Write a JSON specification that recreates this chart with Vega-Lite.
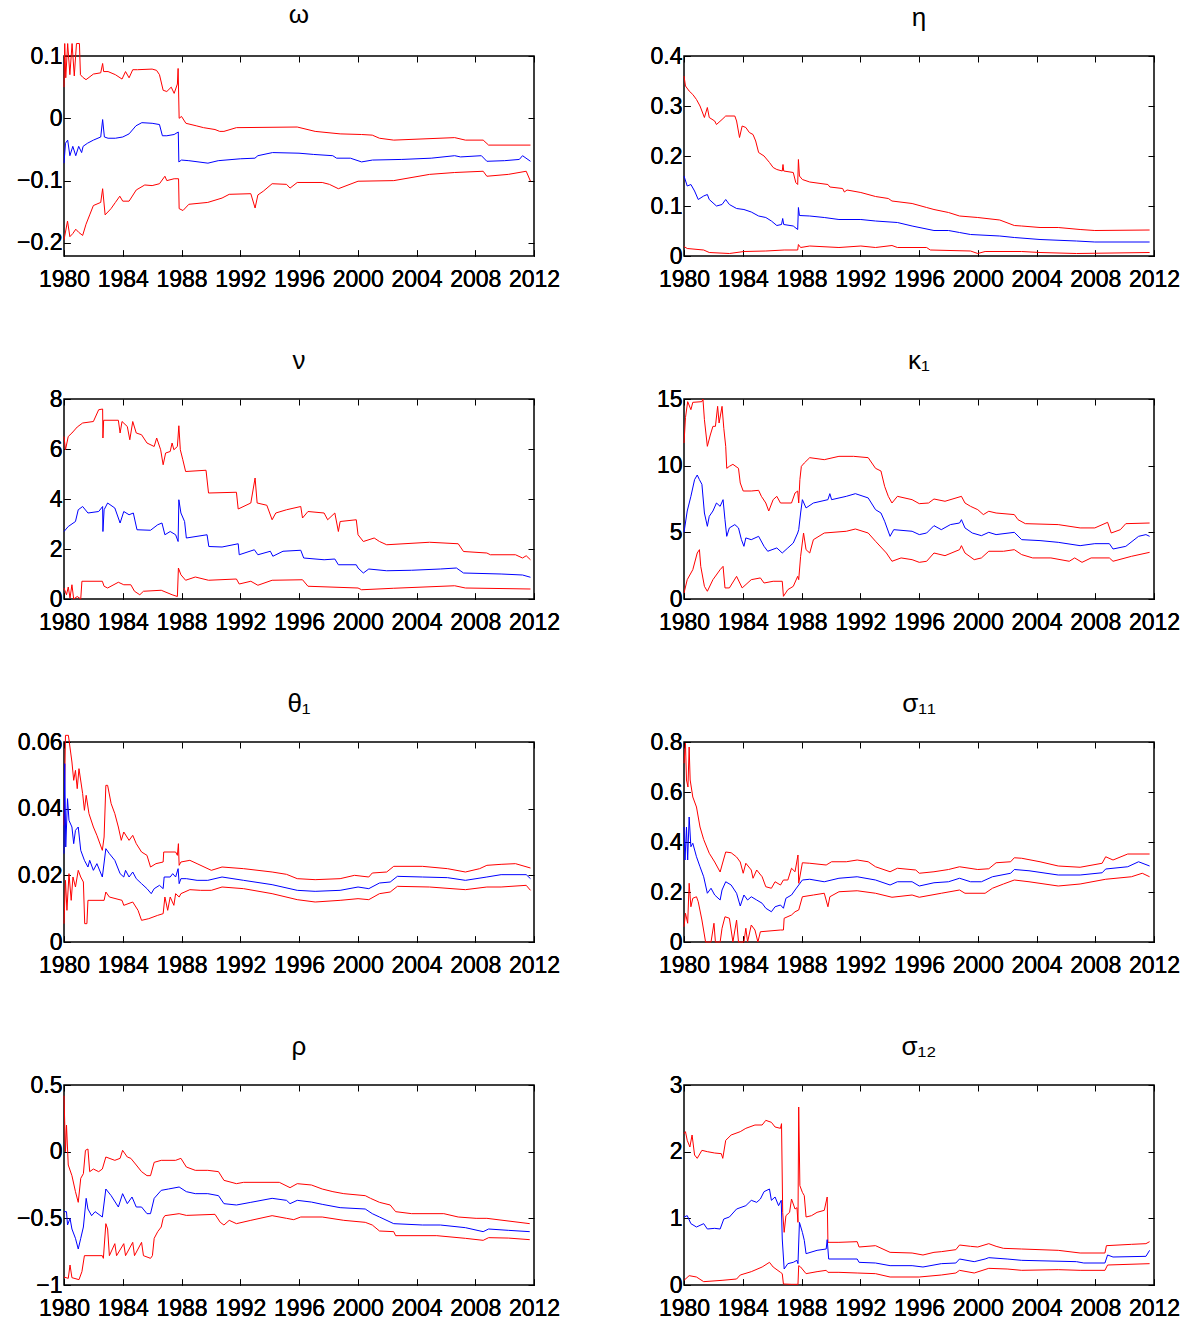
{
"$schema": "https://vega.github.io/schema/vega-lite/v6.json",
"padding": {"left": 15, "top": 0, "right": 5, "bottom": 5},
"background": "white",
"config": {
  "view": {"stroke": "#000000", "strokeWidth": 1.5},
  "axis": {"domain": false, "grid": false, "tickColor": "#000000", "tickSize": -6, "tickWidth": 1, "labelFont": "Liberation Sans, Arial, sans-serif", "labelFontSize": 23, "labelColor": "#000000", "title": null, "labelOverlap": false, "labelFlush": false, "labelBound": false},
  "axisBottom": {"labelPadding": 18},
  "axisLeft": {"labelPadding": 8},
  "title": {"font": "Liberation Sans, sans-serif", "fontSize": 26, "fontWeight": "normal", "color": "#000000", "frame": "group", "anchor": "middle", "baseline": "alphabetic", "offset": 14},
  "line": {"strokeWidth": 1, "clip": true}
},
"datasets": {
"w_h": [{"t":1980.0,"v":0.05},{"t":1980.05,"v":0.12},{"t":1980.12,"v":0.065},{"t":1980.25,"v":0.12},{"t":1980.4,"v":0.07},{"t":1980.55,"v":0.12},{"t":1980.7,"v":0.068},{"t":1980.85,"v":0.12},{"t":1981.05,"v":0.12},{"t":1981.12,"v":0.07},{"t":1981.27,"v":0.066},{"t":1981.5,"v":0.062},{"t":1982.0,"v":0.071},{"t":1982.5,"v":0.073},{"t":1982.63,"v":0.088},{"t":1982.7,"v":0.075},{"t":1983.0,"v":0.075},{"t":1983.5,"v":0.07},{"t":1983.95,"v":0.063},{"t":1984.19,"v":0.075},{"t":1984.43,"v":0.065},{"t":1984.68,"v":0.078},{"t":1985.0,"v":0.078},{"t":1986.0,"v":0.079},{"t":1986.3,"v":0.077},{"t":1986.5,"v":0.07},{"t":1986.75,"v":0.045},{"t":1987.0,"v":0.043},{"t":1987.3,"v":0.05},{"t":1987.5,"v":0.04},{"t":1987.72,"v":0.055},{"t":1987.77,"v":0.08},{"t":1987.84,"v":0.0},{"t":1988.0,"v":0.003},{"t":1988.3,"v":-0.008},{"t":1989.0,"v":-0.012},{"t":1989.5,"v":-0.015},{"t":1990.28,"v":-0.018},{"t":1990.6,"v":-0.021},{"t":1990.89,"v":-0.021},{"t":1991.74,"v":-0.015},{"t":1995.88,"v":-0.014},{"t":1997.1,"v":-0.021},{"t":1998.8,"v":-0.025},{"t":2000.26,"v":-0.026},{"t":2000.99,"v":-0.027},{"t":2001.48,"v":-0.032},{"t":2002.45,"v":-0.035},{"t":2006.6,"v":-0.031},{"t":2007.33,"v":-0.035},{"t":2008.54,"v":-0.035},{"t":2008.91,"v":-0.043},{"t":2011.76,"v":-0.043}],
"w_m": [{"t":1980.0,"v":-0.072},{"t":1980.1,"v":-0.04},{"t":1980.25,"v":-0.035},{"t":1980.4,"v":-0.06},{"t":1980.6,"v":-0.045},{"t":1980.8,"v":-0.06},{"t":1981.0,"v":-0.045},{"t":1981.2,"v":-0.055},{"t":1981.3,"v":-0.045},{"t":1981.6,"v":-0.04},{"t":1982.0,"v":-0.035},{"t":1982.5,"v":-0.03},{"t":1982.63,"v":-0.002},{"t":1982.75,"v":-0.03},{"t":1983.0,"v":-0.032},{"t":1983.5,"v":-0.032},{"t":1984.0,"v":-0.03},{"t":1984.43,"v":-0.025},{"t":1984.9,"v":-0.012},{"t":1985.3,"v":-0.007},{"t":1986.0,"v":-0.008},{"t":1986.5,"v":-0.01},{"t":1986.7,"v":-0.028},{"t":1987.0,"v":-0.028},{"t":1987.5,"v":-0.026},{"t":1987.78,"v":-0.022},{"t":1987.82,"v":-0.07},{"t":1988.0,"v":-0.067},{"t":1988.5,"v":-0.068},{"t":1989.8,"v":-0.072},{"t":1990.5,"v":-0.068},{"t":1992.0,"v":-0.065},{"t":1993.0,"v":-0.064},{"t":1993.2,"v":-0.06},{"t":1994.2,"v":-0.055},{"t":1996.0,"v":-0.056},{"t":1997.0,"v":-0.058},{"t":1998.3,"v":-0.06},{"t":1998.56,"v":-0.064},{"t":1999.5,"v":-0.064},{"t":2000.26,"v":-0.07},{"t":2001.0,"v":-0.067},{"t":2003.0,"v":-0.066},{"t":2005.0,"v":-0.064},{"t":2006.6,"v":-0.06},{"t":2007.0,"v":-0.062},{"t":2008.42,"v":-0.06},{"t":2008.79,"v":-0.069},{"t":2010.0,"v":-0.068},{"t":2011.0,"v":-0.066},{"t":2011.22,"v":-0.06},{"t":2011.76,"v":-0.069}],
"w_l": [{"t":1980.0,"v":-0.195},{"t":1980.24,"v":-0.165},{"t":1980.4,"v":-0.19},{"t":1980.6,"v":-0.185},{"t":1980.8,"v":-0.178},{"t":1981.0,"v":-0.183},{"t":1981.27,"v":-0.188},{"t":1981.5,"v":-0.17},{"t":1981.75,"v":-0.155},{"t":1982.0,"v":-0.14},{"t":1982.5,"v":-0.135},{"t":1982.63,"v":-0.113},{"t":1982.8,"v":-0.155},{"t":1983.2,"v":-0.145},{"t":1983.5,"v":-0.135},{"t":1983.8,"v":-0.125},{"t":1984.0,"v":-0.133},{"t":1984.43,"v":-0.133},{"t":1984.92,"v":-0.115},{"t":1985.5,"v":-0.107},{"t":1986.0,"v":-0.108},{"t":1986.5,"v":-0.105},{"t":1986.87,"v":-0.093},{"t":1987.0,"v":-0.1},{"t":1987.5,"v":-0.097},{"t":1987.8,"v":-0.097},{"t":1987.84,"v":-0.145},{"t":1988.1,"v":-0.148},{"t":1988.5,"v":-0.138},{"t":1989.79,"v":-0.135},{"t":1990.76,"v":-0.128},{"t":1991.25,"v":-0.122},{"t":1992.72,"v":-0.121},{"t":1993.01,"v":-0.144},{"t":1993.2,"v":-0.123},{"t":1993.57,"v":-0.117},{"t":1994.17,"v":-0.105},{"t":1995.15,"v":-0.106},{"t":1995.39,"v":-0.112},{"t":1995.88,"v":-0.103},{"t":1997.58,"v":-0.103},{"t":1998.07,"v":-0.106},{"t":1998.68,"v":-0.113},{"t":2000.02,"v":-0.101},{"t":2002.45,"v":-0.1},{"t":2004.89,"v":-0.09},{"t":2006.6,"v":-0.087},{"t":2008.54,"v":-0.085},{"t":2008.79,"v":-0.093},{"t":2010.25,"v":-0.09},{"t":2011.47,"v":-0.085},{"t":2011.76,"v":-0.101}],
"e_h": [{"t":1980.0,"v":0.36},{"t":1980.1,"v":0.34},{"t":1980.35,"v":0.33},{"t":1980.6,"v":0.323},{"t":1980.85,"v":0.313},{"t":1981.09,"v":0.3},{"t":1981.39,"v":0.277},{"t":1981.59,"v":0.297},{"t":1981.72,"v":0.277},{"t":1982.09,"v":0.27},{"t":1982.21,"v":0.263},{"t":1982.59,"v":0.273},{"t":1982.84,"v":0.28},{"t":1983.46,"v":0.28},{"t":1983.58,"v":0.27},{"t":1983.78,"v":0.237},{"t":1983.96,"v":0.26},{"t":1984.21,"v":0.257},{"t":1984.45,"v":0.247},{"t":1984.7,"v":0.243},{"t":1984.88,"v":0.23},{"t":1985.08,"v":0.207},{"t":1985.45,"v":0.2},{"t":1985.82,"v":0.187},{"t":1986.07,"v":0.177},{"t":1986.32,"v":0.173},{"t":1986.69,"v":0.17},{"t":1986.74,"v":0.183},{"t":1986.79,"v":0.17},{"t":1987.44,"v":0.167},{"t":1987.61,"v":0.147},{"t":1987.74,"v":0.143},{"t":1987.79,"v":0.193},{"t":1987.86,"v":0.16},{"t":1988.06,"v":0.153},{"t":1988.56,"v":0.148},{"t":1989.8,"v":0.143},{"t":1989.93,"v":0.138},{"t":1990.8,"v":0.135},{"t":1990.92,"v":0.128},{"t":1991.1,"v":0.132},{"t":1992.04,"v":0.127},{"t":1993.04,"v":0.119},{"t":1993.91,"v":0.115},{"t":1994.16,"v":0.11},{"t":1995.53,"v":0.105},{"t":1996.52,"v":0.097},{"t":1997.02,"v":0.093},{"t":1998.01,"v":0.087},{"t":1998.76,"v":0.08},{"t":2000.0,"v":0.077},{"t":2001.5,"v":0.072},{"t":2002.49,"v":0.061},{"t":2002.99,"v":0.06},{"t":2004.24,"v":0.057},{"t":2005.48,"v":0.057},{"t":2006.97,"v":0.053},{"t":2007.97,"v":0.051},{"t":2011.7,"v":0.052}],
"e_m": [{"t":1980.0,"v":0.16},{"t":1980.22,"v":0.14},{"t":1980.47,"v":0.143},{"t":1980.72,"v":0.13},{"t":1980.97,"v":0.113},{"t":1981.34,"v":0.12},{"t":1981.59,"v":0.123},{"t":1981.72,"v":0.113},{"t":1982.21,"v":0.1},{"t":1982.59,"v":0.103},{"t":1982.84,"v":0.113},{"t":1983.09,"v":0.103},{"t":1983.58,"v":0.095},{"t":1984.08,"v":0.093},{"t":1984.58,"v":0.088},{"t":1985.08,"v":0.08},{"t":1985.57,"v":0.077},{"t":1985.95,"v":0.07},{"t":1986.32,"v":0.061},{"t":1986.64,"v":0.063},{"t":1986.72,"v":0.075},{"t":1986.79,"v":0.063},{"t":1987.44,"v":0.06},{"t":1987.74,"v":0.053},{"t":1987.79,"v":0.097},{"t":1987.86,"v":0.081},{"t":1988.56,"v":0.08},{"t":1989.55,"v":0.077},{"t":1990.55,"v":0.073},{"t":1992.04,"v":0.073},{"t":1993.04,"v":0.07},{"t":1994.53,"v":0.067},{"t":1995.53,"v":0.06},{"t":1997.02,"v":0.051},{"t":1998.01,"v":0.051},{"t":1998.76,"v":0.047},{"t":1999.51,"v":0.043},{"t":2001.5,"v":0.04},{"t":2002.49,"v":0.037},{"t":2004.24,"v":0.033},{"t":2006.72,"v":0.03},{"t":2007.97,"v":0.028},{"t":2011.7,"v":0.028}],
"e_l": [{"t":1980.0,"v":0.019},{"t":1980.22,"v":0.015},{"t":1981.34,"v":0.012},{"t":1981.72,"v":0.007},{"t":1983.09,"v":0.005},{"t":1984.08,"v":0.009},{"t":1985.57,"v":0.01},{"t":1986.82,"v":0.012},{"t":1987.74,"v":0.012},{"t":1987.79,"v":0.023},{"t":1987.94,"v":0.017},{"t":1988.56,"v":0.02},{"t":1990.55,"v":0.017},{"t":1992.04,"v":0.02},{"t":1993.04,"v":0.017},{"t":1994.16,"v":0.021},{"t":1994.53,"v":0.017},{"t":1996.52,"v":0.017},{"t":1996.77,"v":0.012},{"t":1999.51,"v":0.01},{"t":2000.0,"v":0.005},{"t":2000.5,"v":0.009},{"t":2002.99,"v":0.009},{"t":2004.24,"v":0.007},{"t":2006.72,"v":0.005},{"t":2011.7,"v":0.007}],
"n_h": [{"t":1980.0,"v":6.5},{"t":1980.1,"v":5.97},{"t":1980.29,"v":6.5},{"t":1980.54,"v":6.64},{"t":1980.9,"v":6.88},{"t":1981.27,"v":7.04},{"t":1982.0,"v":7.1},{"t":1982.36,"v":7.57},{"t":1982.63,"v":7.6},{"t":1982.65,"v":6.44},{"t":1982.7,"v":7.15},{"t":1983.7,"v":7.15},{"t":1983.82,"v":6.64},{"t":1983.95,"v":7.1},{"t":1984.31,"v":6.9},{"t":1984.48,"v":6.37},{"t":1984.68,"v":7.1},{"t":1984.92,"v":6.64},{"t":1985.28,"v":6.57},{"t":1985.65,"v":6.24},{"t":1986.14,"v":6.1},{"t":1986.31,"v":6.44},{"t":1986.58,"v":5.97},{"t":1986.75,"v":5.37},{"t":1986.92,"v":5.84},{"t":1987.23,"v":5.9},{"t":1987.36,"v":6.24},{"t":1987.48,"v":5.97},{"t":1987.72,"v":6.1},{"t":1987.82,"v":6.93},{"t":1987.92,"v":5.97},{"t":1988.09,"v":5.57},{"t":1988.28,"v":5.1},{"t":1989.67,"v":5.15},{"t":1989.84,"v":4.24},{"t":1991.74,"v":4.27},{"t":1991.86,"v":3.6},{"t":1992.72,"v":3.84},{"t":1993.01,"v":4.84},{"t":1993.15,"v":3.84},{"t":1993.81,"v":3.75},{"t":1994.17,"v":3.17},{"t":1994.42,"v":3.44},{"t":1995.15,"v":3.57},{"t":1996.12,"v":3.7},{"t":1996.24,"v":3.24},{"t":1996.61,"v":3.5},{"t":1997.71,"v":3.44},{"t":1997.95,"v":3.17},{"t":1998.44,"v":3.44},{"t":1998.68,"v":2.7},{"t":1998.8,"v":3.1},{"t":1999.9,"v":3.17},{"t":2000.02,"v":2.57},{"t":2000.38,"v":2.3},{"t":2001.12,"v":2.44},{"t":2001.48,"v":2.3},{"t":2001.97,"v":2.17},{"t":2004.89,"v":2.27},{"t":2006.84,"v":2.21},{"t":2007.2,"v":1.9},{"t":2008.79,"v":1.84},{"t":2009.03,"v":1.77},{"t":2010.74,"v":1.77},{"t":2011.22,"v":1.64},{"t":2011.47,"v":1.73},{"t":2011.76,"v":1.57}],
"n_m": [{"t":1980.0,"v":2.7},{"t":1980.29,"v":2.9},{"t":1980.78,"v":3.1},{"t":1980.97,"v":3.57},{"t":1981.27,"v":3.7},{"t":1981.63,"v":3.44},{"t":1982.36,"v":3.5},{"t":1982.63,"v":3.7},{"t":1982.65,"v":2.7},{"t":1982.73,"v":3.57},{"t":1982.97,"v":3.84},{"t":1983.46,"v":3.64},{"t":1983.82,"v":3.04},{"t":1984.07,"v":3.5},{"t":1984.43,"v":3.37},{"t":1984.72,"v":3.44},{"t":1984.97,"v":2.77},{"t":1985.89,"v":2.75},{"t":1986.38,"v":2.97},{"t":1986.67,"v":3.04},{"t":1986.87,"v":2.57},{"t":1987.23,"v":2.7},{"t":1987.6,"v":2.57},{"t":1987.77,"v":2.3},{"t":1987.82,"v":3.97},{"t":1987.96,"v":3.44},{"t":1988.21,"v":3.1},{"t":1988.33,"v":2.44},{"t":1989.74,"v":2.57},{"t":1989.86,"v":2.1},{"t":1990.76,"v":2.08},{"t":1991.86,"v":2.21},{"t":1991.93,"v":1.77},{"t":1992.96,"v":1.97},{"t":1993.2,"v":1.77},{"t":1994.05,"v":1.91},{"t":1994.22,"v":1.71},{"t":1994.91,"v":1.91},{"t":1996.12,"v":1.95},{"t":1996.32,"v":1.64},{"t":1997.71,"v":1.57},{"t":1998.44,"v":1.6},{"t":1998.68,"v":1.37},{"t":1999.9,"v":1.37},{"t":2000.02,"v":1.24},{"t":2000.38,"v":1.04},{"t":2000.75,"v":1.2},{"t":2001.97,"v":1.13},{"t":2003.67,"v":1.15},{"t":2005.62,"v":1.2},{"t":2006.72,"v":1.24},{"t":2007.2,"v":1.04},{"t":2009.76,"v":1.0},{"t":2011.22,"v":0.96},{"t":2011.76,"v":0.87}],
"n_l": [{"t":1980.0,"v":0.44},{"t":1980.17,"v":0.17},{"t":1980.29,"v":0.48},{"t":1980.41,"v":0.04},{"t":1980.54,"v":0.57},{"t":1980.66,"v":0.0},{"t":1980.9,"v":0.1},{"t":1981.14,"v":0.0},{"t":1981.22,"v":0.71},{"t":1982.61,"v":0.71},{"t":1982.73,"v":0.51},{"t":1982.97,"v":0.44},{"t":1983.7,"v":0.67},{"t":1984.07,"v":0.57},{"t":1984.55,"v":0.57},{"t":1984.8,"v":0.31},{"t":1985.16,"v":0.17},{"t":1985.41,"v":0.31},{"t":1986.62,"v":0.35},{"t":1987.36,"v":0.17},{"t":1987.72,"v":0.1},{"t":1987.79,"v":1.24},{"t":1987.96,"v":0.97},{"t":1988.28,"v":0.75},{"t":1988.94,"v":0.88},{"t":1989.84,"v":0.75},{"t":1991.74,"v":0.8},{"t":1991.93,"v":0.6},{"t":1992.72,"v":0.71},{"t":1993.2,"v":0.55},{"t":1994.17,"v":0.75},{"t":1996.24,"v":0.77},{"t":1996.61,"v":0.51},{"t":2000.02,"v":0.44},{"t":2000.26,"v":0.37},{"t":2002.45,"v":0.43},{"t":2006.6,"v":0.53},{"t":2007.33,"v":0.44},{"t":2011.76,"v":0.4}],
"k_h": [{"t":1980.0,"v":11.7},{"t":1980.1,"v":13.6},{"t":1980.25,"v":14.8},{"t":1980.47,"v":14.2},{"t":1980.6,"v":14.75},{"t":1981.22,"v":14.8},{"t":1981.29,"v":15.0},{"t":1981.39,"v":13.45},{"t":1981.59,"v":11.45},{"t":1981.79,"v":12.3},{"t":1981.97,"v":12.95},{"t":1982.14,"v":12.95},{"t":1982.29,"v":14.45},{"t":1982.39,"v":13.2},{"t":1982.59,"v":14.45},{"t":1982.71,"v":12.8},{"t":1982.84,"v":11.45},{"t":1982.91,"v":9.8},{"t":1983.09,"v":9.95},{"t":1983.33,"v":10.1},{"t":1983.71,"v":9.8},{"t":1983.83,"v":8.7},{"t":1984.03,"v":8.1},{"t":1984.58,"v":8.1},{"t":1985.08,"v":8.15},{"t":1985.27,"v":7.7},{"t":1985.57,"v":7.2},{"t":1985.77,"v":6.6},{"t":1986.07,"v":7.45},{"t":1986.32,"v":7.7},{"t":1986.57,"v":7.2},{"t":1987.32,"v":7.2},{"t":1987.56,"v":7.95},{"t":1987.74,"v":8.1},{"t":1987.81,"v":7.2},{"t":1987.89,"v":8.95},{"t":1987.99,"v":9.95},{"t":1988.19,"v":10.2},{"t":1988.56,"v":10.6},{"t":1989.55,"v":10.45},{"t":1990.55,"v":10.7},{"t":1991.55,"v":10.7},{"t":1992.54,"v":10.6},{"t":1993.04,"v":9.8},{"t":1993.41,"v":9.6},{"t":1993.66,"v":8.45},{"t":1993.91,"v":7.7},{"t":1994.16,"v":7.2},{"t":1994.53,"v":7.7},{"t":1995.53,"v":7.45},{"t":1996.02,"v":7.15},{"t":1996.65,"v":7.2},{"t":1997.02,"v":7.5},{"t":1997.77,"v":7.33},{"t":1998.89,"v":7.7},{"t":1999.13,"v":7.2},{"t":1999.51,"v":6.95},{"t":2000.0,"v":6.7},{"t":2000.38,"v":6.33},{"t":2000.75,"v":6.58},{"t":2001.25,"v":6.45},{"t":2002.49,"v":6.33},{"t":2002.74,"v":5.95},{"t":2003.24,"v":5.65},{"t":2005.48,"v":5.58},{"t":2006.97,"v":5.33},{"t":2007.97,"v":5.33},{"t":2008.84,"v":5.75},{"t":2009.09,"v":4.95},{"t":2009.71,"v":5.2},{"t":2010.08,"v":5.65},{"t":2011.7,"v":5.7}],
"k_m": [{"t":1980.0,"v":5.0},{"t":1980.22,"v":6.6},{"t":1980.47,"v":7.7},{"t":1980.72,"v":8.95},{"t":1980.9,"v":9.3},{"t":1981.05,"v":8.95},{"t":1981.22,"v":8.6},{"t":1981.39,"v":6.45},{"t":1981.59,"v":5.45},{"t":1981.72,"v":6.2},{"t":1981.97,"v":6.6},{"t":1982.21,"v":7.2},{"t":1982.46,"v":6.95},{"t":1982.66,"v":7.45},{"t":1982.79,"v":5.95},{"t":1982.91,"v":4.7},{"t":1983.09,"v":5.33},{"t":1983.46,"v":5.58},{"t":1983.71,"v":5.33},{"t":1983.91,"v":4.45},{"t":1984.08,"v":3.95},{"t":1984.21,"v":4.58},{"t":1984.58,"v":4.45},{"t":1985.08,"v":4.7},{"t":1985.45,"v":3.95},{"t":1985.7,"v":3.58},{"t":1986.32,"v":3.83},{"t":1986.69,"v":3.45},{"t":1987.07,"v":3.83},{"t":1987.44,"v":4.2},{"t":1987.74,"v":4.95},{"t":1987.81,"v":5.2},{"t":1987.94,"v":6.45},{"t":1988.06,"v":7.45},{"t":1988.31,"v":6.83},{"t":1988.81,"v":7.2},{"t":1989.8,"v":7.45},{"t":1989.93,"v":7.9},{"t":1990.05,"v":7.45},{"t":1991.05,"v":7.7},{"t":1991.67,"v":7.9},{"t":1992.54,"v":7.58},{"t":1993.04,"v":6.7},{"t":1993.41,"v":6.45},{"t":1993.66,"v":5.83},{"t":1994.03,"v":4.7},{"t":1994.28,"v":5.2},{"t":1995.53,"v":5.08},{"t":1996.02,"v":4.83},{"t":1996.52,"v":4.95},{"t":1997.02,"v":5.5},{"t":1997.52,"v":5.2},{"t":1998.14,"v":5.58},{"t":1998.76,"v":5.7},{"t":1998.89,"v":5.95},{"t":1999.13,"v":5.33},{"t":1999.63,"v":4.95},{"t":2000.25,"v":4.75},{"t":2000.75,"v":5.0},{"t":2001.25,"v":4.83},{"t":2002.49,"v":5.0},{"t":2002.99,"v":4.45},{"t":2004.24,"v":4.38},{"t":2005.48,"v":4.25},{"t":2006.97,"v":4.0},{"t":2007.97,"v":4.15},{"t":2008.96,"v":4.15},{"t":2009.21,"v":3.75},{"t":2010.08,"v":3.95},{"t":2010.95,"v":4.7},{"t":2011.45,"v":4.83},{"t":2011.7,"v":4.7}],
"k_l": [{"t":1980.0,"v":0.45},{"t":1980.22,"v":1.45},{"t":1980.6,"v":2.2},{"t":1980.9,"v":3.45},{"t":1981.05,"v":3.7},{"t":1981.14,"v":2.45},{"t":1981.39,"v":0.95},{"t":1981.59,"v":0.58},{"t":1981.97,"v":1.45},{"t":1982.46,"v":2.2},{"t":1982.66,"v":2.45},{"t":1982.79,"v":0.83},{"t":1983.09,"v":0.83},{"t":1983.58,"v":1.7},{"t":1983.96,"v":0.83},{"t":1984.58,"v":1.45},{"t":1985.2,"v":1.58},{"t":1985.45,"v":1.2},{"t":1986.07,"v":1.33},{"t":1986.69,"v":1.33},{"t":1986.77,"v":0.2},{"t":1987.07,"v":0.7},{"t":1987.44,"v":0.95},{"t":1987.74,"v":1.7},{"t":1987.81,"v":1.45},{"t":1987.94,"v":3.2},{"t":1988.14,"v":4.95},{"t":1988.31,"v":3.7},{"t":1988.56,"v":3.45},{"t":1988.81,"v":4.45},{"t":1989.55,"v":4.95},{"t":1991.05,"v":5.08},{"t":1991.67,"v":5.25},{"t":1992.54,"v":4.95},{"t":1993.04,"v":4.33},{"t":1993.78,"v":3.45},{"t":1994.16,"v":2.83},{"t":1994.78,"v":3.08},{"t":1995.53,"v":2.95},{"t":1996.02,"v":2.75},{"t":1996.52,"v":2.83},{"t":1997.02,"v":3.45},{"t":1997.77,"v":3.25},{"t":1998.76,"v":3.7},{"t":1998.89,"v":4.0},{"t":1999.13,"v":3.45},{"t":1999.76,"v":2.95},{"t":2000.25,"v":3.08},{"t":2000.75,"v":3.58},{"t":2001.75,"v":3.58},{"t":2002.49,"v":3.7},{"t":2002.99,"v":3.33},{"t":2003.74,"v":3.08},{"t":2004.98,"v":3.08},{"t":2006.23,"v":2.83},{"t":2006.6,"v":3.08},{"t":2007.1,"v":2.75},{"t":2007.72,"v":3.08},{"t":2008.96,"v":3.08},{"t":2009.21,"v":2.83},{"t":2010.46,"v":3.2},{"t":2011.7,"v":3.5}],
"th_h": [{"t":1980.0,"v":0.035},{"t":1980.1,"v":0.062},{"t":1980.3,"v":0.062},{"t":1980.54,"v":0.054},{"t":1980.66,"v":0.0485},{"t":1980.78,"v":0.0515},{"t":1980.9,"v":0.046},{"t":1981.02,"v":0.052},{"t":1981.27,"v":0.0445},{"t":1981.39,"v":0.0395},{"t":1981.51,"v":0.044},{"t":1981.7,"v":0.0385},{"t":1982.0,"v":0.0345},{"t":1982.24,"v":0.032},{"t":1982.61,"v":0.0275},{"t":1982.73,"v":0.0315},{"t":1982.85,"v":0.047},{"t":1982.97,"v":0.047},{"t":1983.21,"v":0.0415},{"t":1983.46,"v":0.0385},{"t":1983.7,"v":0.0345},{"t":1983.9,"v":0.0305},{"t":1984.07,"v":0.033},{"t":1984.43,"v":0.0305},{"t":1984.68,"v":0.032},{"t":1984.92,"v":0.0295},{"t":1985.28,"v":0.027},{"t":1985.65,"v":0.026},{"t":1985.89,"v":0.0225},{"t":1986.26,"v":0.0235},{"t":1986.75,"v":0.024},{"t":1986.79,"v":0.027},{"t":1987.6,"v":0.027},{"t":1987.72,"v":0.026},{"t":1987.79,"v":0.0295},{"t":1987.84,"v":0.023},{"t":1987.96,"v":0.024},{"t":1988.57,"v":0.0245},{"t":1989.06,"v":0.0235},{"t":1990.03,"v":0.0215},{"t":1990.76,"v":0.0225},{"t":1992.23,"v":0.022},{"t":1994.17,"v":0.021},{"t":1995.15,"v":0.0203},{"t":1995.88,"v":0.019},{"t":1997.1,"v":0.0187},{"t":1998.8,"v":0.019},{"t":1999.78,"v":0.02},{"t":2000.75,"v":0.0195},{"t":2000.99,"v":0.0207},{"t":2001.97,"v":0.021},{"t":2002.45,"v":0.0227},{"t":2004.4,"v":0.0227},{"t":2006.11,"v":0.022},{"t":2007.33,"v":0.021},{"t":2008.3,"v":0.022},{"t":2008.79,"v":0.023},{"t":2009.76,"v":0.0233},{"t":2010.74,"v":0.0235},{"t":2011.76,"v":0.0222}],
"th_m": [{"t":1980.0,"v":0.0265},{"t":1980.05,"v":0.0535},{"t":1980.12,"v":0.0285},{"t":1980.24,"v":0.043},{"t":1980.34,"v":0.0365},{"t":1980.54,"v":0.0345},{"t":1980.66,"v":0.0295},{"t":1980.78,"v":0.0335},{"t":1980.97,"v":0.0345},{"t":1981.14,"v":0.0275},{"t":1981.39,"v":0.0245},{"t":1981.63,"v":0.0225},{"t":1981.75,"v":0.0245},{"t":1982.0,"v":0.0215},{"t":1982.24,"v":0.0235},{"t":1982.61,"v":0.0195},{"t":1982.85,"v":0.028},{"t":1983.09,"v":0.0265},{"t":1983.46,"v":0.0245},{"t":1983.82,"v":0.0205},{"t":1984.07,"v":0.0195},{"t":1984.19,"v":0.0215},{"t":1984.43,"v":0.0195},{"t":1984.68,"v":0.021},{"t":1984.92,"v":0.019},{"t":1985.28,"v":0.0175},{"t":1985.65,"v":0.016},{"t":1985.94,"v":0.0145},{"t":1986.14,"v":0.016},{"t":1986.5,"v":0.017},{"t":1986.75,"v":0.016},{"t":1986.82,"v":0.0195},{"t":1987.23,"v":0.0195},{"t":1987.4,"v":0.0205},{"t":1987.6,"v":0.0195},{"t":1987.77,"v":0.022},{"t":1987.84,"v":0.0175},{"t":1987.96,"v":0.019},{"t":1988.33,"v":0.019},{"t":1989.06,"v":0.0185},{"t":1989.79,"v":0.0185},{"t":1990.76,"v":0.0195},{"t":1992.23,"v":0.0185},{"t":1994.17,"v":0.0172},{"t":1995.88,"v":0.0155},{"t":1997.1,"v":0.0152},{"t":1998.8,"v":0.0155},{"t":2000.02,"v":0.0165},{"t":2000.75,"v":0.016},{"t":2001.48,"v":0.0177},{"t":2002.21,"v":0.018},{"t":2002.7,"v":0.0197},{"t":2004.4,"v":0.0195},{"t":2006.11,"v":0.0193},{"t":2007.33,"v":0.0185},{"t":2008.79,"v":0.0195},{"t":2009.76,"v":0.0202},{"t":2011.47,"v":0.0202},{"t":2011.76,"v":0.019}],
"th_l": [{"t":1980.0,"v":0.0055},{"t":1980.1,"v":0.0185},{"t":1980.2,"v":0.0095},{"t":1980.34,"v":0.0205},{"t":1980.49,"v":0.0125},{"t":1980.61,"v":0.0195},{"t":1980.78,"v":0.0165},{"t":1980.97,"v":0.0215},{"t":1981.14,"v":0.0195},{"t":1981.32,"v":0.018},{"t":1981.41,"v":0.0055},{"t":1981.56,"v":0.0055},{"t":1981.63,"v":0.0125},{"t":1982.73,"v":0.0125},{"t":1982.85,"v":0.015},{"t":1983.09,"v":0.0135},{"t":1983.95,"v":0.0125},{"t":1984.07,"v":0.011},{"t":1984.68,"v":0.012},{"t":1985.04,"v":0.0095},{"t":1985.28,"v":0.0065},{"t":1985.77,"v":0.007},{"t":1986.38,"v":0.008},{"t":1986.75,"v":0.0085},{"t":1986.87,"v":0.0135},{"t":1987.06,"v":0.0095},{"t":1987.23,"v":0.0135},{"t":1987.48,"v":0.011},{"t":1987.6,"v":0.0145},{"t":1987.84,"v":0.0135},{"t":1987.96,"v":0.0145},{"t":1988.57,"v":0.0157},{"t":1989.3,"v":0.0155},{"t":1990.03,"v":0.0155},{"t":1990.76,"v":0.0165},{"t":1992.23,"v":0.016},{"t":1994.17,"v":0.0145},{"t":1995.88,"v":0.0127},{"t":1997.1,"v":0.012},{"t":1998.8,"v":0.0125},{"t":2000.02,"v":0.013},{"t":2000.75,"v":0.0127},{"t":2001.48,"v":0.0145},{"t":2002.21,"v":0.015},{"t":2002.7,"v":0.0167},{"t":2004.89,"v":0.0165},{"t":2007.33,"v":0.0157},{"t":2008.79,"v":0.0165},{"t":2009.76,"v":0.0165},{"t":2011.47,"v":0.017},{"t":2011.76,"v":0.0155}],
"s11_h": [{"t":1980.0,"v":0.715},{"t":1980.1,"v":0.795},{"t":1980.17,"v":0.648},{"t":1980.27,"v":0.62},{"t":1980.35,"v":0.78},{"t":1980.42,"v":0.648},{"t":1980.6,"v":0.58},{"t":1980.85,"v":0.54},{"t":1981.09,"v":0.46},{"t":1981.34,"v":0.41},{"t":1981.72,"v":0.355},{"t":1982.09,"v":0.32},{"t":1982.46,"v":0.28},{"t":1982.59,"v":0.308},{"t":1982.84,"v":0.36},{"t":1983.21,"v":0.357},{"t":1983.58,"v":0.34},{"t":1983.83,"v":0.32},{"t":1984.03,"v":0.275},{"t":1984.21,"v":0.315},{"t":1984.58,"v":0.288},{"t":1984.7,"v":0.255},{"t":1984.95,"v":0.288},{"t":1985.32,"v":0.261},{"t":1985.57,"v":0.221},{"t":1985.95,"v":0.215},{"t":1986.2,"v":0.241},{"t":1986.57,"v":0.228},{"t":1986.77,"v":0.248},{"t":1987.07,"v":0.248},{"t":1987.32,"v":0.295},{"t":1987.56,"v":0.281},{"t":1987.76,"v":0.348},{"t":1987.81,"v":0.235},{"t":1988.06,"v":0.317},{"t":1988.56,"v":0.315},{"t":1989.68,"v":0.308},{"t":1990.05,"v":0.321},{"t":1991.05,"v":0.321},{"t":1991.79,"v":0.328},{"t":1992.54,"v":0.321},{"t":1993.04,"v":0.301},{"t":1994.03,"v":0.281},{"t":1994.53,"v":0.295},{"t":1995.78,"v":0.288},{"t":1996.02,"v":0.275},{"t":1997.02,"v":0.281},{"t":1998.01,"v":0.29},{"t":1998.76,"v":0.301},{"t":2000.0,"v":0.29},{"t":2000.75,"v":0.293},{"t":2001.25,"v":0.317},{"t":2002.24,"v":0.321},{"t":2002.49,"v":0.337},{"t":2002.99,"v":0.335},{"t":2004.24,"v":0.321},{"t":2005.48,"v":0.304},{"t":2006.97,"v":0.299},{"t":2008.47,"v":0.315},{"t":2008.71,"v":0.341},{"t":2009.21,"v":0.328},{"t":2010.21,"v":0.352},{"t":2011.7,"v":0.352}],
"s11_m": [{"t":1980.0,"v":0.46},{"t":1980.07,"v":0.328},{"t":1980.17,"v":0.46},{"t":1980.25,"v":0.328},{"t":1980.35,"v":0.5},{"t":1980.47,"v":0.381},{"t":1980.6,"v":0.395},{"t":1980.85,"v":0.341},{"t":1981.09,"v":0.301},{"t":1981.34,"v":0.261},{"t":1981.59,"v":0.195},{"t":1981.84,"v":0.215},{"t":1982.09,"v":0.188},{"t":1982.46,"v":0.168},{"t":1982.59,"v":0.208},{"t":1982.84,"v":0.241},{"t":1983.21,"v":0.228},{"t":1983.58,"v":0.195},{"t":1983.83,"v":0.144},{"t":1984.08,"v":0.188},{"t":1984.33,"v":0.168},{"t":1984.58,"v":0.181},{"t":1984.95,"v":0.168},{"t":1985.32,"v":0.155},{"t":1985.57,"v":0.135},{"t":1985.95,"v":0.121},{"t":1986.2,"v":0.141},{"t":1986.57,"v":0.148},{"t":1986.77,"v":0.135},{"t":1986.94,"v":0.175},{"t":1987.32,"v":0.188},{"t":1987.56,"v":0.208},{"t":1987.81,"v":0.228},{"t":1988.06,"v":0.248},{"t":1988.56,"v":0.251},{"t":1989.55,"v":0.241},{"t":1990.55,"v":0.255},{"t":1991.79,"v":0.261},{"t":1993.04,"v":0.248},{"t":1994.03,"v":0.228},{"t":1994.53,"v":0.241},{"t":1995.53,"v":0.241},{"t":1996.02,"v":0.224},{"t":1997.02,"v":0.237},{"t":1998.01,"v":0.241},{"t":1998.76,"v":0.255},{"t":1999.51,"v":0.241},{"t":2000.25,"v":0.241},{"t":2001.0,"v":0.261},{"t":2002.24,"v":0.275},{"t":2002.49,"v":0.29},{"t":2003.49,"v":0.285},{"t":2005.48,"v":0.268},{"t":2006.97,"v":0.268},{"t":2008.47,"v":0.277},{"t":2008.71,"v":0.292},{"t":2010.21,"v":0.301},{"t":2010.95,"v":0.321},{"t":2011.7,"v":0.304}],
"s11_l": [{"t":1980.0,"v":0.061},{"t":1980.1,"v":0.115},{"t":1980.25,"v":0.075},{"t":1980.35,"v":0.235},{"t":1980.47,"v":0.141},{"t":1980.6,"v":0.175},{"t":1980.85,"v":0.181},{"t":1980.97,"v":0.161},{"t":1981.22,"v":0.088},{"t":1981.47,"v":0.0},{"t":1981.84,"v":0.0},{"t":1982.04,"v":0.075},{"t":1982.14,"v":0.0},{"t":1982.46,"v":0.0},{"t":1982.59,"v":0.055},{"t":1982.79,"v":0.101},{"t":1983.09,"v":0.095},{"t":1983.21,"v":0.048},{"t":1983.33,"v":0.0},{"t":1983.58,"v":0.088},{"t":1983.71,"v":0.0},{"t":1984.08,"v":0.0},{"t":1984.21,"v":0.055},{"t":1984.33,"v":0.0},{"t":1984.58,"v":0.068},{"t":1984.83,"v":0.048},{"t":1985.03,"v":0.0},{"t":1985.2,"v":0.041},{"t":1986.57,"v":0.048},{"t":1986.77,"v":0.048},{"t":1986.82,"v":0.095},{"t":1987.32,"v":0.108},{"t":1987.56,"v":0.121},{"t":1987.81,"v":0.128},{"t":1988.06,"v":0.181},{"t":1988.81,"v":0.188},{"t":1989.55,"v":0.195},{"t":1989.8,"v":0.141},{"t":1989.93,"v":0.181},{"t":1990.55,"v":0.201},{"t":1991.79,"v":0.205},{"t":1993.04,"v":0.195},{"t":1994.16,"v":0.179},{"t":1995.53,"v":0.188},{"t":1996.02,"v":0.179},{"t":1997.52,"v":0.195},{"t":1998.76,"v":0.208},{"t":1999.13,"v":0.195},{"t":2000.5,"v":0.195},{"t":2001.0,"v":0.215},{"t":2001.75,"v":0.232},{"t":2002.49,"v":0.248},{"t":2003.49,"v":0.241},{"t":2005.48,"v":0.224},{"t":2006.97,"v":0.232},{"t":2008.71,"v":0.251},{"t":2010.46,"v":0.261},{"t":2011.2,"v":0.275},{"t":2011.7,"v":0.261}],
"r_h": [{"t":1980.0,"v":0.42},{"t":1980.1,"v":0.0},{"t":1980.17,"v":0.2},{"t":1980.29,"v":-0.1},{"t":1980.54,"v":-0.18},{"t":1980.78,"v":-0.3},{"t":1980.97,"v":-0.38},{"t":1981.14,"v":-0.2},{"t":1981.32,"v":-0.165},{"t":1981.46,"v":0.01},{"t":1981.63,"v":0.02},{"t":1981.75,"v":-0.15},{"t":1982.0,"v":-0.13},{"t":1982.36,"v":-0.15},{"t":1982.61,"v":-0.13},{"t":1982.85,"v":-0.04},{"t":1983.46,"v":-0.065},{"t":1983.82,"v":-0.05},{"t":1983.99,"v":0.01},{"t":1984.31,"v":-0.04},{"t":1984.55,"v":-0.05},{"t":1984.92,"v":-0.1},{"t":1985.28,"v":-0.15},{"t":1985.65,"v":-0.18},{"t":1985.89,"v":-0.18},{"t":1986.14,"v":-0.08},{"t":1986.62,"v":-0.065},{"t":1987.6,"v":-0.065},{"t":1987.96,"v":-0.05},{"t":1988.33,"v":-0.115},{"t":1988.94,"v":-0.14},{"t":1989.79,"v":-0.14},{"t":1990.52,"v":-0.15},{"t":1990.89,"v":-0.215},{"t":1991.74,"v":-0.24},{"t":1992.23,"v":-0.23},{"t":1994.66,"v":-0.23},{"t":1995.39,"v":-0.27},{"t":1995.88,"v":-0.24},{"t":1996.85,"v":-0.25},{"t":1997.58,"v":-0.28},{"t":1998.31,"v":-0.3},{"t":1999.05,"v":-0.315},{"t":2000.51,"v":-0.33},{"t":2000.87,"v":-0.35},{"t":2001.48,"v":-0.38},{"t":2002.21,"v":-0.4},{"t":2002.58,"v":-0.45},{"t":2003.67,"v":-0.465},{"t":2005.86,"v":-0.465},{"t":2006.84,"v":-0.49},{"t":2008.06,"v":-0.5},{"t":2008.79,"v":-0.5},{"t":2011.71,"v":-0.54}],
"r_m": [{"t":1980.0,"v":-0.45},{"t":1980.17,"v":-0.45},{"t":1980.24,"v":-0.55},{"t":1980.41,"v":-0.5},{"t":1980.54,"v":-0.58},{"t":1980.78,"v":-0.65},{"t":1980.97,"v":-0.73},{"t":1981.14,"v":-0.65},{"t":1981.32,"v":-0.565},{"t":1981.51,"v":-0.35},{"t":1981.63,"v":-0.43},{"t":1981.88,"v":-0.48},{"t":1982.12,"v":-0.45},{"t":1982.61,"v":-0.49},{"t":1982.85,"v":-0.28},{"t":1983.21,"v":-0.33},{"t":1983.7,"v":-0.415},{"t":1983.99,"v":-0.315},{"t":1984.31,"v":-0.39},{"t":1984.63,"v":-0.34},{"t":1984.92,"v":-0.415},{"t":1985.28,"v":-0.415},{"t":1985.65,"v":-0.465},{"t":1985.89,"v":-0.465},{"t":1986.14,"v":-0.35},{"t":1986.62,"v":-0.29},{"t":1987.11,"v":-0.28},{"t":1987.84,"v":-0.265},{"t":1988.33,"v":-0.3},{"t":1988.94,"v":-0.315},{"t":1989.79,"v":-0.315},{"t":1990.52,"v":-0.33},{"t":1990.89,"v":-0.39},{"t":1991.74,"v":-0.4},{"t":1992.72,"v":-0.38},{"t":1994.17,"v":-0.35},{"t":1995.15,"v":-0.365},{"t":1995.39,"v":-0.39},{"t":1995.88,"v":-0.365},{"t":1996.85,"v":-0.378},{"t":1997.58,"v":-0.395},{"t":1998.8,"v":-0.42},{"t":2000.51,"v":-0.43},{"t":2000.99,"v":-0.465},{"t":2001.48,"v":-0.49},{"t":2002.45,"v":-0.54},{"t":2004.4,"v":-0.55},{"t":2005.62,"v":-0.55},{"t":2007.33,"v":-0.57},{"t":2008.54,"v":-0.6},{"t":2008.91,"v":-0.58},{"t":2010.25,"v":-0.59},{"t":2011.71,"v":-0.6}],
"r_l": [{"t":1980.0,"v":-0.94},{"t":1980.29,"v":-0.95},{"t":1980.41,"v":-0.85},{"t":1980.54,"v":-0.945},{"t":1981.02,"v":-0.96},{"t":1981.22,"v":-0.9},{"t":1981.39,"v":-0.78},{"t":1982.61,"v":-0.78},{"t":1982.68,"v":-0.8},{"t":1982.85,"v":-0.54},{"t":1982.97,"v":-0.58},{"t":1983.09,"v":-0.78},{"t":1983.46,"v":-0.69},{"t":1983.58,"v":-0.78},{"t":1984.07,"v":-0.69},{"t":1984.19,"v":-0.78},{"t":1984.68,"v":-0.68},{"t":1984.8,"v":-0.78},{"t":1985.28,"v":-0.68},{"t":1985.41,"v":-0.78},{"t":1985.89,"v":-0.8},{"t":1986.02,"v":-0.78},{"t":1986.14,"v":-0.65},{"t":1986.38,"v":-0.6},{"t":1986.62,"v":-0.565},{"t":1986.75,"v":-0.5},{"t":1986.87,"v":-0.48},{"t":1987.84,"v":-0.465},{"t":1988.33,"v":-0.478},{"t":1990.28,"v":-0.47},{"t":1990.64,"v":-0.53},{"t":1990.89,"v":-0.55},{"t":1991.25,"v":-0.515},{"t":1991.74,"v":-0.54},{"t":1992.72,"v":-0.515},{"t":1994.17,"v":-0.48},{"t":1995.15,"v":-0.5},{"t":1995.64,"v":-0.51},{"t":1996.12,"v":-0.49},{"t":1997.58,"v":-0.49},{"t":1999.05,"v":-0.515},{"t":2000.51,"v":-0.53},{"t":2000.99,"v":-0.55},{"t":2001.48,"v":-0.595},{"t":2002.45,"v":-0.6},{"t":2002.58,"v":-0.63},{"t":2005.38,"v":-0.63},{"t":2007.33,"v":-0.65},{"t":2008.54,"v":-0.665},{"t":2008.91,"v":-0.645},{"t":2010.25,"v":-0.648},{"t":2011.71,"v":-0.66}],
"s12_h": [{"t":1980.0,"v":2.27},{"t":1980.1,"v":2.3},{"t":1980.22,"v":2.17},{"t":1980.4,"v":2.07},{"t":1980.55,"v":2.25},{"t":1980.72,"v":1.95},{"t":1980.9,"v":1.9},{"t":1981.22,"v":2.02},{"t":1981.59,"v":2.0},{"t":1982.09,"v":1.98},{"t":1982.54,"v":1.97},{"t":1982.64,"v":1.9},{"t":1982.84,"v":2.17},{"t":1983.21,"v":2.25},{"t":1983.83,"v":2.3},{"t":1984.21,"v":2.35},{"t":1984.83,"v":2.4},{"t":1985.32,"v":2.4},{"t":1985.57,"v":2.47},{"t":1985.95,"v":2.44},{"t":1986.2,"v":2.37},{"t":1986.57,"v":2.35},{"t":1986.64,"v":2.42},{"t":1986.72,"v":1.09},{"t":1986.82,"v":0.79},{"t":1986.94,"v":1.04},{"t":1987.19,"v":1.09},{"t":1987.32,"v":1.29},{"t":1987.56,"v":1.14},{"t":1987.69,"v":1.16},{"t":1987.76,"v":0.94},{"t":1987.81,"v":2.67},{"t":1987.89,"v":1.49},{"t":1988.06,"v":1.39},{"t":1988.19,"v":1.34},{"t":1988.31,"v":1.02},{"t":1988.68,"v":1.04},{"t":1989.06,"v":1.09},{"t":1989.55,"v":1.12},{"t":1989.75,"v":1.32},{"t":1989.8,"v":0.64},{"t":1990.55,"v":0.64},{"t":1991.79,"v":0.65},{"t":1991.92,"v":0.57},{"t":1993.04,"v":0.59},{"t":1994.03,"v":0.49},{"t":1995.53,"v":0.48},{"t":1996.27,"v":0.45},{"t":1997.02,"v":0.49},{"t":1997.52,"v":0.5},{"t":1998.51,"v":0.53},{"t":1998.76,"v":0.6},{"t":1999.51,"v":0.58},{"t":2000.0,"v":0.57},{"t":2000.75,"v":0.62},{"t":2001.25,"v":0.58},{"t":2001.75,"v":0.55},{"t":2002.99,"v":0.54},{"t":2005.48,"v":0.52},{"t":2006.97,"v":0.48},{"t":2008.66,"v":0.48},{"t":2008.76,"v":0.59},{"t":2010.46,"v":0.61},{"t":2011.45,"v":0.62},{"t":2011.7,"v":0.65}],
"s12_m": [{"t":1980.0,"v":1.02},{"t":1980.22,"v":1.04},{"t":1980.47,"v":0.92},{"t":1980.85,"v":0.87},{"t":1981.34,"v":0.92},{"t":1981.59,"v":0.84},{"t":1982.09,"v":0.85},{"t":1982.46,"v":0.84},{"t":1982.71,"v":0.99},{"t":1983.09,"v":1.02},{"t":1983.58,"v":1.14},{"t":1984.21,"v":1.19},{"t":1984.58,"v":1.27},{"t":1984.95,"v":1.24},{"t":1985.2,"v":1.29},{"t":1985.45,"v":1.4},{"t":1985.82,"v":1.44},{"t":1985.95,"v":1.27},{"t":1986.2,"v":1.32},{"t":1986.44,"v":1.19},{"t":1986.62,"v":1.27},{"t":1986.69,"v":0.69},{"t":1986.82,"v":0.24},{"t":1987.07,"v":0.32},{"t":1987.44,"v":0.34},{"t":1987.69,"v":0.37},{"t":1987.76,"v":0.32},{"t":1987.86,"v":0.94},{"t":1988.06,"v":0.79},{"t":1988.19,"v":0.67},{"t":1988.31,"v":0.47},{"t":1989.06,"v":0.52},{"t":1989.68,"v":0.54},{"t":1989.75,"v":0.68},{"t":1989.85,"v":0.39},{"t":1991.79,"v":0.39},{"t":1991.92,"v":0.34},{"t":1993.04,"v":0.33},{"t":1994.03,"v":0.29},{"t":1995.53,"v":0.29},{"t":1996.27,"v":0.27},{"t":1997.52,"v":0.32},{"t":1998.51,"v":0.33},{"t":1998.76,"v":0.39},{"t":1999.76,"v":0.35},{"t":2000.5,"v":0.39},{"t":2000.75,"v":0.41},{"t":2002.0,"v":0.39},{"t":2002.99,"v":0.37},{"t":2006.72,"v":0.35},{"t":2007.22,"v":0.33},{"t":2008.66,"v":0.33},{"t":2008.84,"v":0.45},{"t":2009.21,"v":0.42},{"t":2011.45,"v":0.43},{"t":2011.7,"v":0.52}],
"s12_l": [{"t":1980.0,"v":0.07},{"t":1980.35,"v":0.14},{"t":1980.85,"v":0.12},{"t":1981.34,"v":0.05},{"t":1982.59,"v":0.07},{"t":1983.58,"v":0.09},{"t":1983.83,"v":0.15},{"t":1984.58,"v":0.2},{"t":1985.32,"v":0.27},{"t":1985.82,"v":0.34},{"t":1986.07,"v":0.27},{"t":1986.57,"v":0.19},{"t":1986.69,"v":0.17},{"t":1986.77,"v":0.015},{"t":1987.32,"v":0.01},{"t":1987.76,"v":0.01},{"t":1987.81,"v":0.29},{"t":1987.94,"v":0.27},{"t":1988.31,"v":0.17},{"t":1989.06,"v":0.2},{"t":1989.68,"v":0.22},{"t":1989.8,"v":0.19},{"t":1990.55,"v":0.19},{"t":1991.79,"v":0.18},{"t":1993.04,"v":0.17},{"t":1994.03,"v":0.12},{"t":1996.02,"v":0.12},{"t":1997.52,"v":0.15},{"t":1998.51,"v":0.18},{"t":1998.76,"v":0.22},{"t":1999.76,"v":0.18},{"t":2000.75,"v":0.25},{"t":2002.0,"v":0.24},{"t":2002.99,"v":0.22},{"t":2005.48,"v":0.23},{"t":2006.97,"v":0.22},{"t":2008.66,"v":0.22},{"t":2008.84,"v":0.3},{"t":2011.7,"v":0.32}]
},
"columns": 2,
"bounds": "flush",
"spacing": {"row": 143, "column": 150},
"concat": [
{"title": "ω", "width": 470, "height": 200,
 "encoding": {"x": {"field": "t", "type": "quantitative", "scale": {"domain": [1980, 2012], "nice": false, "zero": false}, "axis": {"orient": "bottom", "values": [1980,1984,1988,1992,1996,2000,2004,2008,2012], "format": "d"}},
  "y": {"field": "v", "type": "quantitative", "scale": {"domain": [-0.221, 0.1], "nice": false, "zero": false}, "axis": {"orient": "left", "values": [-0.2,-0.1,0,0.1], "format": "~g"}}},
 "layer": [
  {"data": {"name": "w_h"}, "mark": {"type": "line", "color": "#ff0000"}},
  {"data": {"name": "w_m"}, "mark": {"type": "line", "color": "#0000ff"}},
  {"data": {"name": "w_l"}, "mark": {"type": "line", "color": "#ff0000"}},
  {"data": {"name": "w_m"}, "mark": {"type": "line", "opacity": 0},
   "encoding": {"x": {"field": "t", "type": "quantitative", "scale": {"domain": [1980, 2012], "nice": false, "zero": false}, "axis": {"orient": "top", "labels": false, "values": [1980,1984,1988,1992,1996,2000,2004,2008,2012]}},
    "y": {"field": "v", "type": "quantitative", "scale": {"domain": [-0.221, 0.1], "nice": false, "zero": false}, "axis": {"orient": "right", "labels": false, "values": [-0.2,-0.1,0,0.1]}}}}
 ],
 "resolve": {"axis": {"x": "independent", "y": "independent"}}},
{"title": "η", "width": 470, "height": 200,
 "encoding": {"x": {"field": "t", "type": "quantitative", "scale": {"domain": [1980, 2012], "nice": false, "zero": false}, "axis": {"orient": "bottom", "values": [1980,1984,1988,1992,1996,2000,2004,2008,2012], "format": "d"}},
  "y": {"field": "v", "type": "quantitative", "scale": {"domain": [0, 0.4], "nice": false, "zero": false}, "axis": {"orient": "left", "values": [0,0.1,0.2,0.3,0.4], "format": "~g"}}},
 "layer": [
  {"data": {"name": "e_h"}, "mark": {"type": "line", "color": "#ff0000"}},
  {"data": {"name": "e_m"}, "mark": {"type": "line", "color": "#0000ff"}},
  {"data": {"name": "e_l"}, "mark": {"type": "line", "color": "#ff0000"}},
  {"data": {"name": "e_m"}, "mark": {"type": "line", "opacity": 0},
   "encoding": {"x": {"field": "t", "type": "quantitative", "scale": {"domain": [1980, 2012], "nice": false, "zero": false}, "axis": {"orient": "top", "labels": false, "values": [1980,1984,1988,1992,1996,2000,2004,2008,2012]}},
    "y": {"field": "v", "type": "quantitative", "scale": {"domain": [0, 0.4], "nice": false, "zero": false}, "axis": {"orient": "right", "labels": false, "values": [0,0.1,0.2,0.3,0.4]}}}}
 ],
 "resolve": {"axis": {"x": "independent", "y": "independent"}}},
{"title": "ν", "width": 470, "height": 200,
 "encoding": {"x": {"field": "t", "type": "quantitative", "scale": {"domain": [1980, 2012], "nice": false, "zero": false}, "axis": {"orient": "bottom", "values": [1980,1984,1988,1992,1996,2000,2004,2008,2012], "format": "d"}},
  "y": {"field": "v", "type": "quantitative", "scale": {"domain": [0, 8], "nice": false, "zero": false}, "axis": {"orient": "left", "values": [0,2,4,6,8], "format": "~g"}}},
 "layer": [
  {"data": {"name": "n_h"}, "mark": {"type": "line", "color": "#ff0000"}},
  {"data": {"name": "n_m"}, "mark": {"type": "line", "color": "#0000ff"}},
  {"data": {"name": "n_l"}, "mark": {"type": "line", "color": "#ff0000"}},
  {"data": {"name": "n_m"}, "mark": {"type": "line", "opacity": 0},
   "encoding": {"x": {"field": "t", "type": "quantitative", "scale": {"domain": [1980, 2012], "nice": false, "zero": false}, "axis": {"orient": "top", "labels": false, "values": [1980,1984,1988,1992,1996,2000,2004,2008,2012]}},
    "y": {"field": "v", "type": "quantitative", "scale": {"domain": [0, 8], "nice": false, "zero": false}, "axis": {"orient": "right", "labels": false, "values": [0,2,4,6,8]}}}}
 ],
 "resolve": {"axis": {"x": "independent", "y": "independent"}}},
{"title": "κ₁", "width": 470, "height": 200,
 "encoding": {"x": {"field": "t", "type": "quantitative", "scale": {"domain": [1980, 2012], "nice": false, "zero": false}, "axis": {"orient": "bottom", "values": [1980,1984,1988,1992,1996,2000,2004,2008,2012], "format": "d"}},
  "y": {"field": "v", "type": "quantitative", "scale": {"domain": [0, 15], "nice": false, "zero": false}, "axis": {"orient": "left", "values": [0,5,10,15], "format": "~g"}}},
 "layer": [
  {"data": {"name": "k_h"}, "mark": {"type": "line", "color": "#ff0000"}},
  {"data": {"name": "k_m"}, "mark": {"type": "line", "color": "#0000ff"}},
  {"data": {"name": "k_l"}, "mark": {"type": "line", "color": "#ff0000"}},
  {"data": {"name": "k_m"}, "mark": {"type": "line", "opacity": 0},
   "encoding": {"x": {"field": "t", "type": "quantitative", "scale": {"domain": [1980, 2012], "nice": false, "zero": false}, "axis": {"orient": "top", "labels": false, "values": [1980,1984,1988,1992,1996,2000,2004,2008,2012]}},
    "y": {"field": "v", "type": "quantitative", "scale": {"domain": [0, 15], "nice": false, "zero": false}, "axis": {"orient": "right", "labels": false, "values": [0,5,10,15]}}}}
 ],
 "resolve": {"axis": {"x": "independent", "y": "independent"}}},
{"title": "θ₁", "width": 470, "height": 200,
 "encoding": {"x": {"field": "t", "type": "quantitative", "scale": {"domain": [1980, 2012], "nice": false, "zero": false}, "axis": {"orient": "bottom", "values": [1980,1984,1988,1992,1996,2000,2004,2008,2012], "format": "d"}},
  "y": {"field": "v", "type": "quantitative", "scale": {"domain": [0, 0.06], "nice": false, "zero": false}, "axis": {"orient": "left", "values": [0,0.02,0.04,0.06], "format": "~g"}}},
 "layer": [
  {"data": {"name": "th_h"}, "mark": {"type": "line", "color": "#ff0000"}},
  {"data": {"name": "th_m"}, "mark": {"type": "line", "color": "#0000ff"}},
  {"data": {"name": "th_l"}, "mark": {"type": "line", "color": "#ff0000"}},
  {"data": {"name": "th_m"}, "mark": {"type": "line", "opacity": 0},
   "encoding": {"x": {"field": "t", "type": "quantitative", "scale": {"domain": [1980, 2012], "nice": false, "zero": false}, "axis": {"orient": "top", "labels": false, "values": [1980,1984,1988,1992,1996,2000,2004,2008,2012]}},
    "y": {"field": "v", "type": "quantitative", "scale": {"domain": [0, 0.06], "nice": false, "zero": false}, "axis": {"orient": "right", "labels": false, "values": [0,0.02,0.04,0.06]}}}}
 ],
 "resolve": {"axis": {"x": "independent", "y": "independent"}}},
{"title": "σ₁₁", "width": 470, "height": 200,
 "encoding": {"x": {"field": "t", "type": "quantitative", "scale": {"domain": [1980, 2012], "nice": false, "zero": false}, "axis": {"orient": "bottom", "values": [1980,1984,1988,1992,1996,2000,2004,2008,2012], "format": "d"}},
  "y": {"field": "v", "type": "quantitative", "scale": {"domain": [0, 0.8], "nice": false, "zero": false}, "axis": {"orient": "left", "values": [0,0.2,0.4,0.6,0.8], "format": "~g"}}},
 "layer": [
  {"data": {"name": "s11_h"}, "mark": {"type": "line", "color": "#ff0000"}},
  {"data": {"name": "s11_m"}, "mark": {"type": "line", "color": "#0000ff"}},
  {"data": {"name": "s11_l"}, "mark": {"type": "line", "color": "#ff0000"}},
  {"data": {"name": "s11_m"}, "mark": {"type": "line", "opacity": 0},
   "encoding": {"x": {"field": "t", "type": "quantitative", "scale": {"domain": [1980, 2012], "nice": false, "zero": false}, "axis": {"orient": "top", "labels": false, "values": [1980,1984,1988,1992,1996,2000,2004,2008,2012]}},
    "y": {"field": "v", "type": "quantitative", "scale": {"domain": [0, 0.8], "nice": false, "zero": false}, "axis": {"orient": "right", "labels": false, "values": [0,0.2,0.4,0.6,0.8]}}}}
 ],
 "resolve": {"axis": {"x": "independent", "y": "independent"}}},
{"title": "ρ", "width": 470, "height": 200,
 "encoding": {"x": {"field": "t", "type": "quantitative", "scale": {"domain": [1980, 2012], "nice": false, "zero": false}, "axis": {"orient": "bottom", "values": [1980,1984,1988,1992,1996,2000,2004,2008,2012], "format": "d"}},
  "y": {"field": "v", "type": "quantitative", "scale": {"domain": [-1, 0.5], "nice": false, "zero": false}, "axis": {"orient": "left", "values": [-1,-0.5,0,0.5], "format": "~g"}}},
 "layer": [
  {"data": {"name": "r_h"}, "mark": {"type": "line", "color": "#ff0000"}},
  {"data": {"name": "r_m"}, "mark": {"type": "line", "color": "#0000ff"}},
  {"data": {"name": "r_l"}, "mark": {"type": "line", "color": "#ff0000"}},
  {"data": {"name": "r_m"}, "mark": {"type": "line", "opacity": 0},
   "encoding": {"x": {"field": "t", "type": "quantitative", "scale": {"domain": [1980, 2012], "nice": false, "zero": false}, "axis": {"orient": "top", "labels": false, "values": [1980,1984,1988,1992,1996,2000,2004,2008,2012]}},
    "y": {"field": "v", "type": "quantitative", "scale": {"domain": [-1, 0.5], "nice": false, "zero": false}, "axis": {"orient": "right", "labels": false, "values": [-1,-0.5,0,0.5]}}}}
 ],
 "resolve": {"axis": {"x": "independent", "y": "independent"}}},
{"title": "σ₁₂", "width": 470, "height": 200,
 "encoding": {"x": {"field": "t", "type": "quantitative", "scale": {"domain": [1980, 2012], "nice": false, "zero": false}, "axis": {"orient": "bottom", "values": [1980,1984,1988,1992,1996,2000,2004,2008,2012], "format": "d"}},
  "y": {"field": "v", "type": "quantitative", "scale": {"domain": [0, 3], "nice": false, "zero": false}, "axis": {"orient": "left", "values": [0,1,2,3], "format": "~g"}}},
 "layer": [
  {"data": {"name": "s12_h"}, "mark": {"type": "line", "color": "#ff0000"}},
  {"data": {"name": "s12_m"}, "mark": {"type": "line", "color": "#0000ff"}},
  {"data": {"name": "s12_l"}, "mark": {"type": "line", "color": "#ff0000"}},
  {"data": {"name": "s12_m"}, "mark": {"type": "line", "opacity": 0},
   "encoding": {"x": {"field": "t", "type": "quantitative", "scale": {"domain": [1980, 2012], "nice": false, "zero": false}, "axis": {"orient": "top", "labels": false, "values": [1980,1984,1988,1992,1996,2000,2004,2008,2012]}},
    "y": {"field": "v", "type": "quantitative", "scale": {"domain": [0, 3], "nice": false, "zero": false}, "axis": {"orient": "right", "labels": false, "values": [0,1,2,3]}}}}
 ],
 "resolve": {"axis": {"x": "independent", "y": "independent"}}}
]
}
